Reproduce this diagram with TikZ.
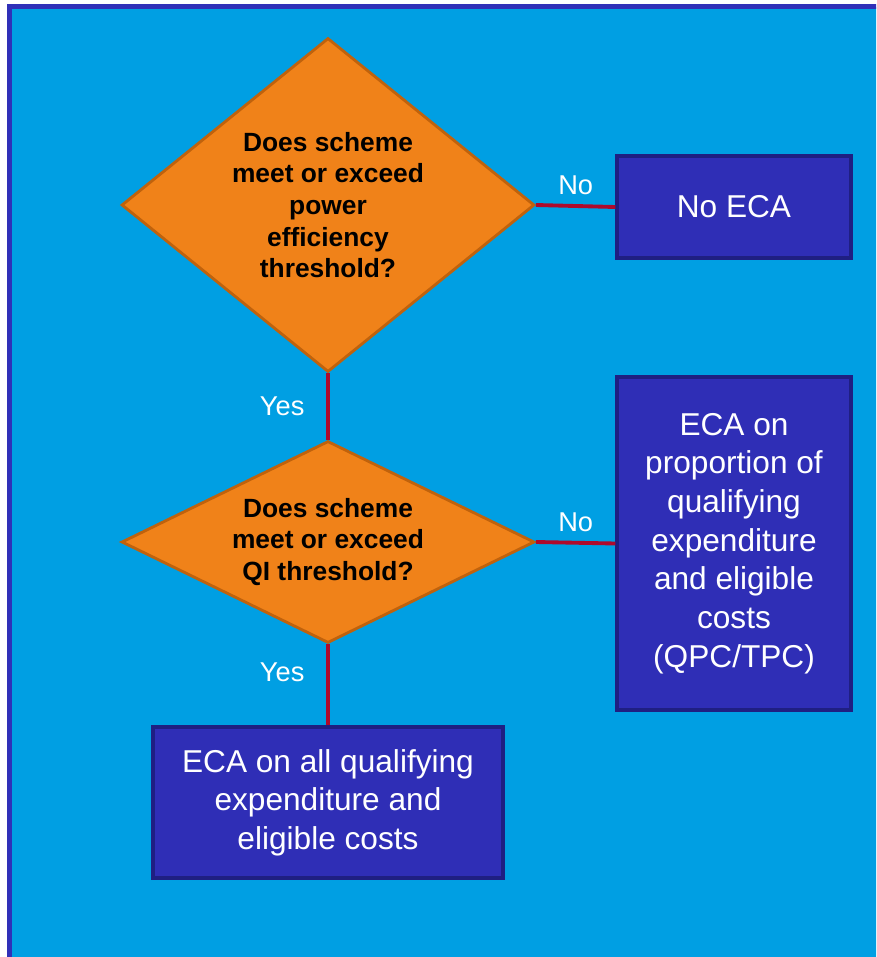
\documentclass[tikz,border=0pt]{standalone}
\usepackage{fontspec}
\setmainfont{Liberation Sans}
\usetikzlibrary{shapes.geometric, positioning}
\definecolor{panelblue}{HTML}{009FE3}
\definecolor{panelborder}{HTML}{3030B8}
\definecolor{boxblue}{HTML}{2F2EB6}
\definecolor{boxblueborder}{HTML}{1F1F82}
\definecolor{askorange}{HTML}{F08219}
\definecolor{askorangeborder}{HTML}{C0620C}
\definecolor{linkred}{HTML}{AE0A2C}

\begin{document}
\begin{tikzpicture}[
      x=0.02cm, y=-0.02cm,
      ask/.style={diamond, draw=askorangeborder, fill=askorange, line width=1.6pt,
        inner sep=0pt, minimum width=8.26cm, align=center,
        font=\fontsize{15}{18}\selectfont\bfseries},
      outcome/.style={draw=boxblueborder, fill=boxblue, line width=1.8pt,
        minimum width=4.68cm, align=center, text=white,
        font=\fontsize{18}{22}\selectfont},
      link/.style={draw=linkred, line width=2.2pt},
      answer/.style={text=white, font=\fontsize{15.5}{18}\selectfont}
    ]
      \clip (0,0) rectangle (876,957);
      \useasboundingbox (0,0) rectangle (876,957);
      % panel
      \draw[fill=panelblue, draw=panelborder, line width=2.8pt]
        (9.5,6.5) rectangle (900,980);

      % questions
      \node[ask, aspect=1.24, minimum height=6.68cm] (power) at (328,205)
        {Does scheme\\meet or exceed\\power\\efficiency\\threshold?};
      \node[ask, aspect=2.1, minimum height=4.04cm] (qi) at (328,542)
        {Does scheme\\meet or exceed\\QI threshold?};

      % outcomes
      \node[outcome, minimum height=2.04cm] (noeca) at (734,207) {No ECA};
      \node[outcome, minimum height=6.66cm] (part) at (734,543.5)
        {ECA on\\proportion of\\qualifying\\expenditure\\and eligible\\costs\\(QPC/TPC)};
      \node[outcome, minimum width=7cm, minimum height=3.02cm] (full) at (328,802.5)
        {ECA on all qualifying\\expenditure and\\eligible costs};

      % links
      \draw[link] (power.east) -- node[answer, above=2pt] {No} (noeca.west);
      \draw[link] (power.south) -- node[answer, left=9pt] {Yes} (qi.north);
      \draw[link] (qi.east) -- node[answer, above=2pt] {No} (part.west);
      \draw[link] (qi.south) -- node[answer, left=9pt, pos=0.35] {Yes} (full.north);
    \end{tikzpicture}
\end{document}
